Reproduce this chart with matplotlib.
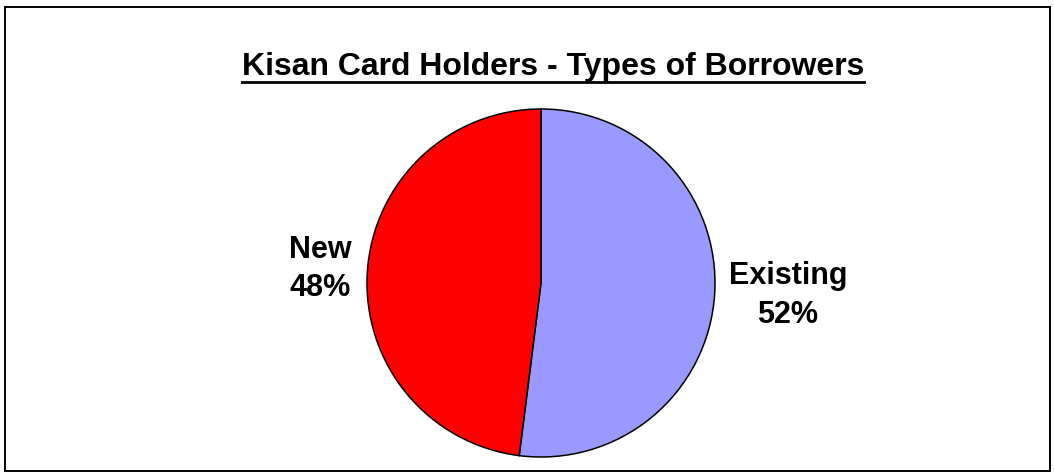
import matplotlib.pyplot as plt
from matplotlib.lines import Line2D
from matplotlib.patches import Rectangle

plt.rcParams['font.family'] = ['Liberation Sans', 'DejaVu Sans']

labels = ['Existing', 'New']
shares = [52, 48]
colors = ['#9999FF', '#FF0000']
title = 'Kisan Card Holders - Types of Borrowers'

W, H = 1054, 475
fig = plt.figure(figsize=(W / 100, H / 100), dpi=100)

# outer border
fig.patches.append(Rectangle((5 / W, 4 / H), 1045 / W, 464 / H, transform=fig.transFigure,
                             fill=False, edgecolor='black', linewidth=1.4))

cx, cy, r = 541, 283, 174
ax = fig.add_axes([(cx - r) / W, (H - cy - r) / H, 2 * r / W, 2 * r / H])
wedges, _ = ax.pie(shares, colors=colors, startangle=90, counterclock=False,
                   wedgeprops=dict(edgecolor='black', linewidth=1.1))
ax.set_xlim(-1, 1)
ax.set_ylim(-1, 1)
ax.set_aspect('equal')
ax.axis('off')

# data labels
ax.text(1.42, -0.072, f'{labels[0]}\n{shares[0]}%', ha='center', va='center',
        fontsize=22, fontweight='bold', linespacing=1.37)
ax.text(-1.27, 0.08, f'{labels[1]}\n{shares[1]}%', ha='center', va='center',
        fontsize=22, fontweight='bold', linespacing=1.37)

t = fig.text(553 / W, 1 - 75 / H, title, ha='center', va='baseline',
             fontsize=23, fontweight='bold')
fig.canvas.draw()
bb = t.get_window_extent().transformed(fig.transFigure.inverted())
uy = 1 - 81.5 / H
fig.lines.append(Line2D([bb.x0, bb.x1], [uy, uy],
                        transform=fig.transFigure, color='black', linewidth=2))

fig.savefig('out.png', dpi=100)
